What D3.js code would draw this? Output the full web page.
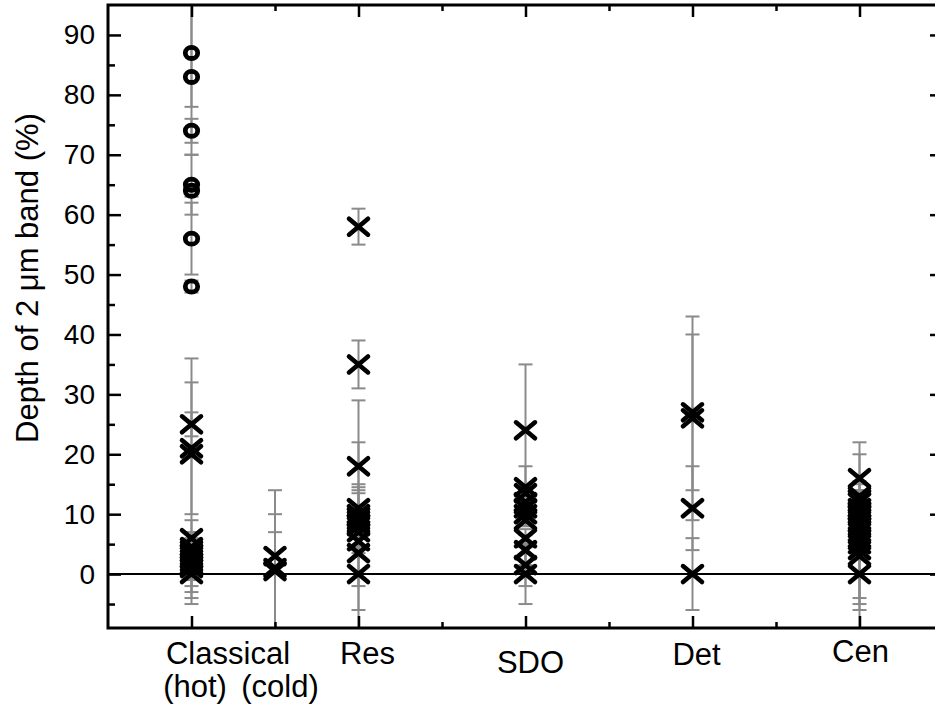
<!DOCTYPE html>
<html>
<head>
<meta charset="utf-8">
<script src="https://cdn.jsdelivr.net/npm/d3@7"></script>
<style>
  html, body { margin: 0; padding: 0; background: #fff; }
  svg { display: block; font-family: "Liberation Sans", Arial, sans-serif; }
</style>
</head>
<body>
<svg id="chart" width="935" height="707"></svg>
<script>
// ---------- data ----------
const yTickValues = [0, 10, 20, 30, 40, 50, 60, 70, 80, 90];
const yMinorTickValues = [-5, 5, 15, 25, 35, 45, 55, 65, 75, 85];
const xMajorTickValues = [1, 3, 5, 7, 9];
const xMinorTickValues = [2, 4, 6, 8];

const categoryNames = ["Classical (hot)", "Classical (cold)", "Res", "SDO", "Det", "Cen"];
const categoryX = [1, 2, 3, 5, 7, 9];

// Classical hot: open circles (high depth) and crosses
const hotCircleValues = [87, 83, 74, 65, 64, 56, 48];
const hotCircleErrors = [9, 13, 2, 5, 1, 6, 1];
const hotCrossValues = [25, 21, 20, 6, 4.5, 4, 3.5, 3, 2.5, 2, 1.5, 1, 0];
const hotCrossErrors = [2, 11, 16, 1, 1, 1, 2, 6, 1.5, 4, 5.5, 2, 5];

// Classical cold
const coldValues = [3, 1, 0.5];
const coldErrorsUp = [11, 9, 6.5];
const coldErrorsDown = [13, 11, 10];

// Resonant
const resValues = [58, 35, 18, 11, 10, 9.5, 9, 8.5, 8, 7, 5.5, 3.5, 0];
const resErrors = [3, 4, 4, 4, 19, 5, 1.5, 5, 2, 1, 1.5, 5.5, 6];

// Scattered disk objects
const sdoValues = [24, 14.5, 13.5, 12, 11, 10, 9, 6, 4, 1.5, 0];
const sdoErrors = [11, 3.5, 1, 1, 1, 2, 1, 1.5, 2.5, 3.5, 5];

// Detached
const detValues = [27, 26, 11, 0];
const detErrors = [13, 17, 7, 6];

// Centaurs
const cenValues = [16, 13, 12.5, 12, 11, 10.5, 10, 9, 8.5, 8, 7, 6, 5, 4, 3, 0];
const cenErrors = [6, 1, 7.5, 2, 1, 1.5, 2, 1, 1, 2, 1.5, 1.5, 10, 10, 12.5, 4];

// ---------- build point table ----------
function pts(px, vals, up, down, marker) {
  return vals.map((v, i) => ({px, v, up: up[i], down: (down || up)[i], marker}));
}
const points = [].concat(
  pts(categoryX[0], hotCircleValues, hotCircleErrors, null, "circle"),
  pts(categoryX[0], hotCrossValues, hotCrossErrors, null, "cross"),
  pts(categoryX[1], coldValues, coldErrorsUp, coldErrorsDown, "cross"),
  pts(categoryX[2], resValues, resErrors, null, "cross"),
  pts(categoryX[3], sdoValues, sdoErrors, null, "cross"),
  pts(categoryX[4], detValues, detErrors, null, "cross"),
  pts(categoryX[5], cenValues, cenErrors, null, "cross")
);

// ---------- layout ----------
const svg = d3.select("#chart");
const pLeft = 108, pRight = 943, pTop = 5, pBottom = 628;
const x = d3.scaleLinear().domain([0, 10]).range([pLeft, pRight]);
const y = d3.scaleLinear().domain([-9, 95]).range([pBottom, pTop]);

svg.append("defs").append("clipPath").attr("id", "plotclip")
  .append("rect").attr("x", pLeft).attr("y", pTop)
  .attr("width", pRight - pLeft).attr("height", pBottom - pTop);

const plot = svg.append("g").attr("clip-path", "url(#plotclip)");

// zero line
plot.append("line")
  .attr("x1", pLeft).attr("x2", pRight)
  .attr("y1", y(0)).attr("y2", y(0))
  .attr("stroke", "#000").attr("stroke-width", 2);

// error bars
const errColor = "#8a8a8a";
const capHalf = 7;
const eb = plot.append("g").attr("stroke", errColor).attr("stroke-width", 2).attr("fill", "none");
points.forEach(p => {
  const cx = x(p.px), y1 = y(p.v + p.up), y2 = y(p.v - p.down);
  eb.append("line").attr("x1", cx).attr("x2", cx).attr("y1", y1).attr("y2", y2);
  eb.append("line").attr("x1", cx - capHalf).attr("x2", cx + capHalf).attr("y1", y1).attr("y2", y1);
  eb.append("line").attr("x1", cx - capHalf).attr("x2", cx + capHalf).attr("y1", y2).attr("y2", y2);
});

// markers
const mk = plot.append("g").attr("stroke", "#000").attr("fill", "none").attr("stroke-linecap", "round");
const hw = 9.5, hh = 8;
points.forEach(p => {
  const cx = x(p.px), cy = y(p.v);
  if (p.marker === "circle") {
    mk.append("ellipse").attr("cx", cx).attr("cy", cy).attr("rx", 6.2).attr("ry", 5.6)
      .attr("stroke-width", 4.8);
  } else {
    mk.append("path")
      .attr("d", `M${cx - hw},${cy - hh}L${cx + hw},${cy + hh}M${cx - hw},${cy + hh}L${cx + hw},${cy - hh}`)
      .attr("stroke-width", 4.6);
  }
});

// ---------- axes ----------
function styleAxis(g) {
  g.select(".domain").remove();
  g.selectAll(".tick line").attr("stroke", "#000").attr("stroke-width", 2.5);
  g.selectAll(".tick text").attr("fill", "#000");
}
const tickFont = 28;

svg.append("g").attr("transform", `translate(${pLeft},0)`)
  .call(d3.axisLeft(y).tickValues(yTickValues).tickSize(-13).tickPadding(13).tickFormat(d3.format("d")))
  .call(styleAxis)
  .call(g => g.selectAll(".tick text").attr("font-size", tickFont).attr("font-family", "Liberation Sans, Arial, sans-serif"));
svg.append("g").attr("transform", `translate(${pLeft},0)`)
  .call(d3.axisLeft(y).tickValues(yMinorTickValues).tickSize(-7).tickFormat(""))
  .call(styleAxis);
svg.append("g").attr("transform", `translate(${pRight},0)`)
  .call(d3.axisRight(y).tickValues(yTickValues).tickSize(-13).tickFormat(""))
  .call(styleAxis);
svg.append("g").attr("transform", `translate(${pRight},0)`)
  .call(d3.axisRight(y).tickValues(yMinorTickValues).tickSize(-7).tickFormat(""))
  .call(styleAxis);

svg.append("g").attr("transform", `translate(0,${pBottom})`)
  .call(d3.axisBottom(x).tickValues(xMajorTickValues).tickSize(-12).tickFormat(""))
  .call(styleAxis);
svg.append("g").attr("transform", `translate(0,${pBottom})`)
  .call(d3.axisBottom(x).tickValues(xMinorTickValues).tickSize(-6).tickFormat(""))
  .call(styleAxis);
svg.append("g").attr("transform", `translate(0,${pTop})`)
  .call(d3.axisTop(x).tickValues(xMajorTickValues).tickSize(-12).tickFormat(""))
  .call(styleAxis);
svg.append("g").attr("transform", `translate(0,${pTop})`)
  .call(d3.axisTop(x).tickValues(xMinorTickValues).tickSize(-6).tickFormat(""))
  .call(styleAxis);

// frame
svg.append("path")
  .attr("d", `M${pRight},${pTop}H${pLeft}V${pBottom}H${pRight}`)
  .attr("fill", "none").attr("stroke", "#000").attr("stroke-width", 3);
svg.append("line").attr("x1", pRight).attr("x2", pRight).attr("y1", pTop).attr("y2", pBottom)
  .attr("stroke", "#000").attr("stroke-width", 3);

// ---------- category labels ----------
const labFont = 31;
const lab = svg.append("g").attr("font-size", labFont).attr("fill", "#000").attr("text-anchor", "middle");
lab.append("text").attr("x", 228).attr("y", 664).text("Classical");
lab.append("text").attr("x", 195).attr("y", 697).text("(hot)");
lab.append("text").attr("x", 280).attr("y", 697).text("(cold)");
lab.append("text").attr("x", x(categoryX[2]) + 9).attr("y", 664).text(categoryNames[2]);
lab.append("text").attr("x", x(categoryX[3]) + 5).attr("y", 673).text(categoryNames[3]);
lab.append("text").attr("x", x(categoryX[4]) + 4).attr("y", 665).text(categoryNames[4]);
lab.append("text").attr("x", x(categoryX[5]) + 1).attr("y", 662).text(categoryNames[5]);

// y title
svg.append("text")
  .attr("transform", `translate(38,${278}) rotate(-90)`)
  .attr("text-anchor", "middle").attr("font-size", 31).attr("fill", "#000")
  .text("Depth of 2 \u03bcm band (%)");
</script>
</body>
</html>
